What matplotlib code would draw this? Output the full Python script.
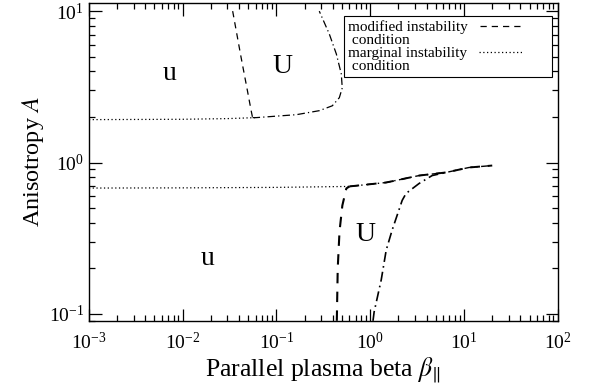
import matplotlib
matplotlib.use("Agg")
import matplotlib.pyplot as plt
from matplotlib.lines import Line2D
from matplotlib.legend_handler import HandlerLine2D

plt.rcParams['font.family'] = ['Liberation Serif', 'DejaVu Serif']
plt.rcParams['mathtext.fontset'] = 'stix'

# upper branch (A > 1)
marg_up_x = [1e-3, 1e-2, 0.03, 0.0612]
marg_up_A = [1.92, 1.93, 1.95, 1.98]
mod_up_x = [0.0341, 0.0418, 0.0489, 0.0537, 0.0556]
mod_up_A = [10.0, 5.0, 3.0, 2.2, 1.98]
dd_up_x = [0.0556, 0.0612, 0.163, 0.286, 0.394, 0.468, 0.503, 0.491, 0.435, 0.366, 0.286]
dd_up_A = [1.98, 1.98, 2.07, 2.20, 2.37, 2.68, 3.11, 3.85, 5.21, 7.06, 10.0]

# lower branch (A < 1)
marg_lo_x = [1e-3, 1e-2, 0.1, 0.6]
marg_lo_A = [0.678, 0.68, 0.685, 0.695]
top_lo_x = [0.6, 1.48, 3.32, 6.45, 11.3, 20.0]
top_lo_A = [0.695, 0.738, 0.82, 0.86, 0.927, 0.955]
mod_lo_x = [0.44, 0.45, 0.47, 0.504, 0.556, 0.6]
mod_lo_A = [0.09, 0.2, 0.35, 0.52, 0.674, 0.695]
dd_lo_x = [1.07, 1.10, 1.31, 1.48, 1.71, 2.19, 2.41, 3.32, 4.57, 6.45]
dd_lo_A = [0.09, 0.103, 0.168, 0.264, 0.357, 0.562, 0.625, 0.727, 0.82, 0.86]

dashed = (0, (5, 4))
dotted = (0, (1, 2))
dashdot = (0, (6, 2.5, 1, 2.5))


class ShortLine(HandlerLine2D):
    # line sample only fills the left part of the handle box
    def create_artists(self, legend, orig_handle, xdescent, ydescent,
                       width, height, fontsize, trans):
        return super().create_artists(legend, orig_handle, xdescent, ydescent,
                                      width * 0.67, height, fontsize, trans)


fig = plt.figure(figsize=(5.89, 3.87), dpi=100)
ax = fig.add_axes([0.151, 0.171, 0.796, 0.821])

ax.plot(marg_up_x, marg_up_A, color='k', lw=0.9, ls=dotted)
ax.plot(mod_up_x, mod_up_A, color='k', lw=0.9, ls=dashed)
ax.plot(dd_up_x, dd_up_A, color='k', lw=0.9, ls=dashdot)

ax.plot(marg_lo_x, marg_lo_A, color='k', lw=0.9, ls=dotted)
ax.plot(top_lo_x, top_lo_A, color='k', lw=1.4, ls=dashed)
ax.plot(top_lo_x, top_lo_A, color='k', lw=1.0, ls=dashdot)
ax.plot(mod_lo_x, mod_lo_A, color='k', lw=1.5, ls=dashed)
ax.plot(dd_lo_x, dd_lo_A, color='k', lw=1.2, ls=dashdot)

ax.set_xscale('log')
ax.set_yscale('log')
ax.set_xlim(1e-3, 1e2)
ax.set_ylim(0.09, 11.3)

ax.text(0.0073, 3.9, 'u', fontsize=20, ha='center', va='center')
ax.text(0.117, 4.3, 'U', fontsize=20, ha='center', va='center')
ax.text(0.0185, 0.234, 'u', fontsize=20, ha='center', va='center')
ax.text(0.885, 0.336, 'U', fontsize=20, ha='center', va='center')

ax.set_xlabel(r'Parallel plasma beta $\beta_{\|}$', fontsize=18.5, labelpad=2)
ax.set_ylabel(r'Anisotropy $A$', fontsize=17.5, labelpad=2)

ax.tick_params(which='both', direction='in', top=True, right=True,
               labelsize=14, width=0.9)
ax.tick_params(axis='x', which='both', pad=8)
ax.tick_params(which='major', length=9)
ax.tick_params(which='minor', length=4.5)
for s in ax.spines.values():
    s.set_linewidth(1.0)

handles = [
    Line2D([], [], color='k', lw=0.9, ls=dashed),
    Line2D([], [], ls='none'),
    Line2D([], [], color='k', lw=0.9, ls=dotted),
    Line2D([], [], ls='none'),
]
labels = ['modified instability', ' condition', 'marginal instability', ' condition']
leg = ax.legend(handles, labels, loc='upper right', bbox_to_anchor=(0.987, 0.959),
                borderaxespad=0, markerfirst=False, fontsize=11, handlelength=4.4,
                labelspacing=-0.06, fancybox=False, framealpha=1, edgecolor='k',
                borderpad=0.3, handletextpad=0.78,
                handler_map={Line2D: ShortLine()})
leg.get_frame().set_linewidth(0.8)
for col in leg._legend_handle_box.get_children():
    col.align = 'left'

fig.savefig('out.png', dpi=100)
